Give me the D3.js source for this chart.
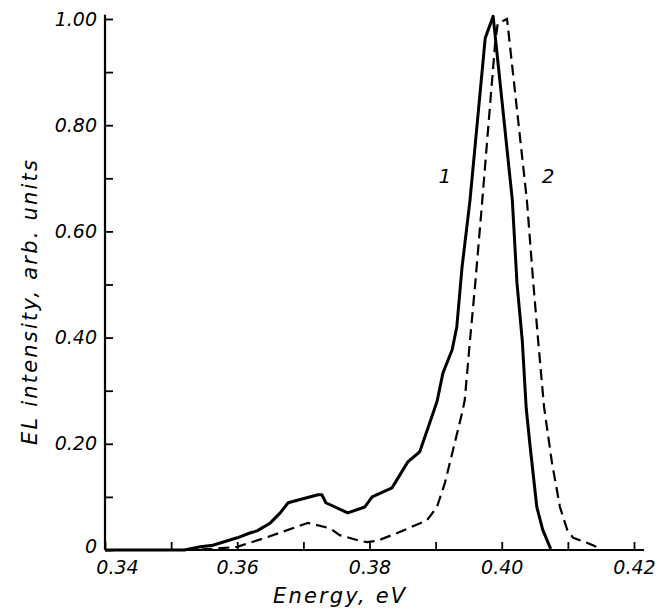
<!DOCTYPE html>
<html>
<head>
<meta charset="utf-8">
<script src="https://cdn.jsdelivr.net/npm/d3@7"></script>
<style>
  body { margin: 0; background: #fff; }
  text { font-family: "DejaVu Sans", sans-serif; font-style: italic; font-weight: normal; fill: #000; }
</style>
</head>
<body>
<svg id="chart" width="656" height="610"></svg>
<script>
// curve 1 (solid)
const energy1 = [0.340, 0.352, 0.3544, 0.3563, 0.360, 0.3619, 0.363, 0.365, 0.3665, 0.3677,
  0.3722, 0.3728, 0.3734, 0.3767, 0.3793, 0.3804, 0.3834, 0.3858, 0.3876, 0.3891,
  0.3902, 0.3911, 0.3925, 0.3932, 0.3940, 0.3952, 0.3975, 0.3987, 0.4016, 0.4023,
  0.4031, 0.4037, 0.4043, 0.4053, 0.4062, 0.4074];
const intensity1 = [0, 0, 0.006, 0.009, 0.023, 0.032, 0.036, 0.051, 0.070, 0.089,
  0.104, 0.104, 0.089, 0.070, 0.081, 0.100, 0.117, 0.166, 0.185, 0.239,
  0.279, 0.333, 0.377, 0.420, 0.533, 0.659, 0.964, 1.005, 0.659, 0.503,
  0.395, 0.267, 0.194, 0.081, 0.038, 0.002];

// curve 2 (dashed)
const energy2 = [0.352, 0.3563, 0.360, 0.3645, 0.3707, 0.374, 0.3755, 0.3786, 0.3796, 0.3811,
  0.3842, 0.3887, 0.3902, 0.3914, 0.3929, 0.3940, 0.3944, 0.3952, 0.3960, 0.3970,
  0.3990, 0.3994, 0.4008, 0.4038, 0.4047, 0.4055, 0.4064, 0.4076, 0.4088, 0.4099,
  0.4108, 0.4126, 0.4138, 0.4146];
const intensity2 = [0, 0.002, 0.006, 0.024, 0.051, 0.041, 0.028, 0.017, 0.015, 0.017,
  0.032, 0.056, 0.081, 0.126, 0.202, 0.258, 0.282, 0.395, 0.503, 0.650,
  0.955, 0.992, 1.0, 0.659, 0.514, 0.395, 0.269, 0.164, 0.081, 0.038,
  0.023, 0.015, 0.009, 0.004];

const xTickValues = [0.34, 0.35, 0.36, 0.37, 0.38, 0.39, 0.40, 0.41, 0.42];
const xTickLabels = ["0.34", "", "0.36", "", "0.38", "", "0.40", "", "0.42"];
const yTickValues = [0, 0.1, 0.2, 0.3, 0.4, 0.5, 0.6, 0.7, 0.8, 0.9, 1.0];
const yTickLabels = ["0", "", "0.20", "", "0.40", "", "0.60", "", "0.80", "", "1.00"];
const curveNames = ["1", "2"];

const svg = d3.select("#chart");
const x = d3.scaleLinear().domain([0.34, 0.42]).range([105, 634]);
const y = d3.scaleLinear().domain([0, 1]).range([550, 19]);

// axes
const xAxis = d3.axisBottom(x)
  .tickValues(xTickValues)
  .tickFormat((d, i) => xTickLabels[i])
  .tickSizeInner(-8).tickSizeOuter(0).tickPadding(11);
const gx = svg.append("g").attr("transform", "translate(0," + y(0) + ")").call(xAxis);
gx.select(".domain").remove();
gx.append("line").attr("x1", x(0.34)).attr("x2", x(0.4215))
  .attr("stroke", "#000").attr("stroke-width", 2.2);
// first label sits a bit right of its tick, clear of the "0"
gx.selectAll(".tick text").filter((d, i) => i === 0).attr("dx", 12);

const yAxis = d3.axisLeft(y)
  .tickValues(yTickValues)
  .tickFormat((d, i) => yTickLabels[i])
  .tickSizeInner(-8).tickSizeOuter(0).tickPadding(8);
const gy = svg.append("g").attr("transform", "translate(" + x(0.34) + ",0)").call(yAxis);
gy.select(".domain").remove();
gy.append("line").attr("y1", y(0)).attr("y2", y(1.008))
  .attr("stroke", "#000").attr("stroke-width", 2.2);
gy.selectAll(".tick text").filter(d => d === 0).attr("y", -4);

svg.selectAll(".tick line").attr("stroke", "#000").attr("stroke-width", 1.8);
svg.selectAll(".tick text").attr("font-size", 19);

// curves
const line = d3.line().x(d => x(d[0])).y(d => y(d[1]));
svg.append("path")
  .attr("d", line(energy1.map((e, i) => [e, intensity1[i]])))
  .attr("fill", "none").attr("stroke", "#000").attr("stroke-width", 3)
  .attr("stroke-linejoin", "round");
svg.append("path")
  .attr("d", line(energy2.map((e, i) => [e, intensity2[i]])))
  .attr("fill", "none").attr("stroke", "#000").attr("stroke-width", 2.2)
  .attr("stroke-dasharray", "11,6");

// curve labels
svg.append("text").attr("x", x(0.3914)).attr("y", y(0.691))
  .attr("text-anchor", "middle").attr("font-size", 20).text(curveNames[0]);
svg.append("text").attr("x", x(0.4070)).attr("y", y(0.691))
  .attr("text-anchor", "middle").attr("font-size", 20).text(curveNames[1]);

// axis titles
svg.append("text").attr("x", x(0.3754)).attr("y", 603)
  .attr("text-anchor", "middle").attr("font-size", 21)
  .attr("textLength", 132).attr("lengthAdjust", "spacing")
  .text("Energy, eV");
svg.append("text")
  .attr("transform", "translate(37," + y(0.466) + ") rotate(-90)")
  .attr("text-anchor", "middle").attr("font-size", 21)
  .attr("textLength", 285).attr("lengthAdjust", "spacing")
  .text("EL intensity, arb. units");
</script>
</body>
</html>
